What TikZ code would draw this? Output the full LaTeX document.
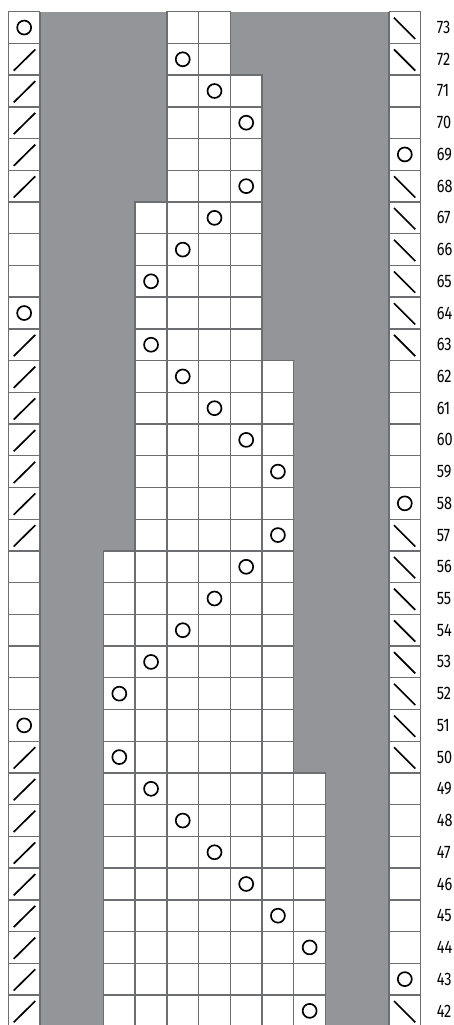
\documentclass[tikz,border=0pt]{standalone}
\usepackage{fontspec}
\newfontfamily\rowfont[FakeStretch=0.8]{Fira Sans}
\definecolor{chartgray}{HTML}{939598}
\definecolor{gridgray}{HTML}{6D6E71}
\begin{document}
\begin{tikzpicture}[x=0.8cm,y=0.8cm,line join=miter,
		gridline/.style={gridgray,line width=1pt},
		yarnover/.style={black,line width=1.2pt},
		decrease/.style={black,line width=1.2pt,line cap=butt},
		rownum/.style={anchor=west,inner sep=0pt,font=\rowfont\fontsize{13}{13}\selectfont}]
			\useasboundingbox (-0.262,0.054) rectangle (14.02,32.369);
			% gray area and the white knitted part
			\fill[chartgray] (1,0) rectangle (12,32);
			\coordinate (W) at (3,0);
			\fill[white] (W) -- (10,0) -- (10,8) -- (9,8) -- (9,21) -- (8,21) -- (8,30) -- (7,30) -- (7,32) -- (5,32) -- (5,26) -- (4,26) -- (4,15) -- (3,15) -- cycle;
			\begin{scope}
				\clip (W) -- (10,0) -- (10,8) -- (9,8) -- (9,21) -- (8,21) -- (8,30) -- (7,30) -- (7,32) -- (5,32) -- (5,26) -- (4,26) -- (4,15) -- (3,15) -- cycle;
				\draw[gridline,step={(1,1)}] (0,0) grid (13,32);
			\end{scope}
			\draw[gridline] (W) -- (10,0) -- (10,8) -- (9,8) -- (9,21) -- (8,21) -- (8,30) -- (7,30) -- (7,32) -- (5,32) -- (5,26) -- (4,26) -- (4,15) -- (3,15) -- cycle;
			\draw[gridline,step={(1,1)}] (0,0) grid (1,32);
			\draw[gridline,step={(1,1)}] (12,0) grid (13,32);
			% yarn overs
			\foreach \c/\r in {0/73,0/64,0/51,12/69,12/58,12/43,5/72,6/71,7/70,7/68,6/67,5/66,4/65,4/63,5/62,6/61,7/60,8/59,8/57,7/56,6/55,5/54,4/53,3/52,3/50,4/49,5/48,6/47,7/46,8/45,9/44,9/42}
				\draw[yarnover] (\c+0.5,\r-41.5) circle (0.22);
			% decreases, left edge
			\foreach \r in {72,71,70,69,68,63,62,61,60,59,58,57,50,49,48,47,46,45,44,43,42}
				\draw[decrease] (0.17,\r-41.86) -- (0.85,\r-41.19);
			% decreases, right edge
			\foreach \r in {73,72,68,67,66,65,64,63,57,56,55,54,53,52,51,50,42}
				\draw[decrease] (12.16,\r-41.19) -- (12.83,\r-41.86);
			% row numbers
			\foreach \r in {42,...,73}
				\node[rownum] (row\r) at (13.5,\r-41.5) {\r};
		\end{tikzpicture}
\end{document}
